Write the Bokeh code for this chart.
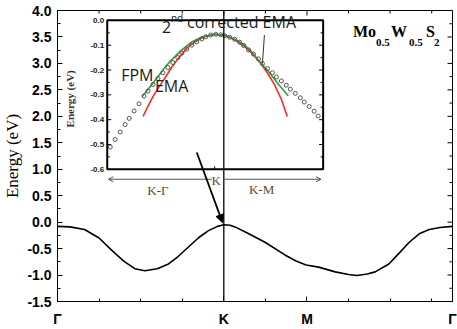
from bokeh.plotting import figure
from bokeh.models import (Range1d, FixedTicker, PrintfTickFormatter, Span,
                          Arrow, NormalHead, OpenHead, Label, ColumnDataSource)
from bokeh.core.properties import value
from bokeh.embed import file_html
from bokeh.resources import INLINE
import math

# ---------------- data ----------------
# main band along Γ-K-M-Γ (path coordinate, energy eV)
band_k = [0.0, 0.3, 0.65, 1.0, 1.3, 1.6, 1.86, 2.1, 2.4, 2.67, 2.9, 3.15, 3.4, 3.63, 3.85,
          4.0, 4.15, 4.27, 4.6, 4.99, 5.47, 5.75, 5.98, 6.28, 6.68, 7.0, 7.2, 7.45, 7.64,
          7.97, 8.2, 8.46, 8.7, 8.94, 9.2, 9.5]
band_e = [-0.08, -0.09, -0.14, -0.30, -0.53, -0.74, -0.88, -0.92, -0.88, -0.79, -0.65, -0.47,
          -0.29, -0.16, -0.08, -0.05, -0.06, -0.09, -0.22, -0.38, -0.62, -0.74, -0.81, -0.85,
          -0.94, -0.99, -1.01, -0.98, -0.94, -0.79, -0.60, -0.38, -0.22, -0.14, -0.10, -0.08]
sym_pos = [0, 4, 6, 9.5]
sym_labels = ["Γ", "K", "M", "Γ"]
minor_x = [1, 2, 3, 5, 7, 8, 9]
y_major = [-1.5, -1.0, -0.5, 0.0, 0.5, 1.0, 1.5, 2.0, 2.5, 3.0, 3.5, 4.0]
y_minor = [-1.25, -0.75, -0.25, 0.25, 0.75, 1.25, 1.75, 2.25, 2.75, 3.25, 3.75]
K_pos = 4

# inset: k measured from K (-1 = K-Γ end, +1 = K-M end), energy eV
fpm_k = [-0.972, -0.926, -0.880, -0.834, -0.797, -0.751, -0.705, -0.659, -0.622, -0.576,
         -0.530, -0.484, -0.438, -0.392, -0.346, -0.309, -0.263, -0.217, -0.171, -0.124,
         -0.088, -0.041, 0.005, 0.051, 0.088, 0.134, 0.180, 0.226, 0.263, 0.309, 0.355,
         0.401, 0.438, 0.484, 0.530, 0.567, 0.613, 0.659, 0.696, 0.742, 0.788, 0.825,
         0.871, 0.917, 0.954]
fpm_e = [-0.510, -0.480, -0.450, -0.420, -0.395, -0.365, -0.336, -0.305, -0.285, -0.258,
         -0.234, -0.211, -0.190, -0.170, -0.150, -0.132, -0.116, -0.100, -0.087, -0.075,
         -0.066, -0.059, -0.056, -0.058, -0.062, -0.068, -0.076, -0.088, -0.101, -0.119,
         -0.136, -0.155, -0.174, -0.194, -0.211, -0.228, -0.244, -0.261, -0.277, -0.294,
         -0.312, -0.329, -0.347, -0.366, -0.385]
ema_k = [-0.668, -0.622, -0.576, -0.521, -0.465, -0.401, -0.336, -0.263, -0.189, -0.106,
         -0.005, 0.097, 0.189, 0.272, 0.346, 0.419, 0.484, 0.548, 0.613, 0.668]
ema_e = [-0.387, -0.345, -0.307, -0.268, -0.232, -0.188, -0.150, -0.113, -0.087, -0.067,
         -0.056, -0.062, -0.080, -0.105, -0.135, -0.172, -0.212, -0.258, -0.318, -0.387]
cema_k = [-0.677, -0.631, -0.585, -0.539, -0.493, -0.447, -0.401, -0.355, -0.309, -0.217,
          -0.124, -0.005, 0.106, 0.198, 0.272, 0.336, 0.410, 0.493, 0.585, 0.677]
cema_e = [-0.307, -0.282, -0.257, -0.232, -0.205, -0.180, -0.158, -0.138, -0.119, -0.087,
          -0.067, -0.056, -0.062, -0.080, -0.100, -0.126, -0.166, -0.205, -0.257, -0.304]
inset_major = [0.0, -0.1, -0.2, -0.3, -0.4, -0.5, -0.6]
inset_minor = [-0.05, -0.15, -0.25, -0.35, -0.45, -0.55]
inset_labels = ["0.0", "-0.1", "-0.2", "-0.3", "-0.4", "-0.5", "-0.6"]

# ---------------- layout constants ----------------
FL, FR, FT, FB = 0.1259, 0.6725, 0.0339, 0.5458   # inset box as fractions of main frame
ix_lo, ix_hi, iy_lo, iy_hi = -1.0, 1.0, -0.6, 0.0
sx = (ix_hi - ix_lo) / (FR - FL)
sy = (iy_hi - iy_lo) / (FB - FT)

p = figure(width=457, height=329, x_range=Range1d(0, 9.5), y_range=Range1d(-1.5, 4.0),
           output_backend="svg", toolbar_location=None,
           min_border_left=55, min_border_right=5, min_border_top=10, min_border_bottom=24)
p.extra_x_ranges = {"ix": Range1d(ix_lo - FL * sx, ix_hi + (1 - FR) * sx)}
p.extra_y_ranges = {"iy": Range1d(iy_lo - (1 - FB) * sy, iy_hi + FT * sy)}
p.xgrid.visible = False
p.ygrid.visible = False
p.outline_line_color = "black"
p.outline_line_width = 1
p.background_fill_color = "white"
p.border_fill_color = "white"

xa = p.xaxis[0]
xa.ticker = FixedTicker(ticks=sym_pos, minor_ticks=minor_x)
xa.major_label_overrides = {k: v for k, v in zip(sym_pos, sym_labels)}
xa.major_label_text_font = "Liberation Sans"
xa.major_label_text_font_style = "bold"
xa.major_label_text_font_size = "14px"
xa.major_label_text_color = "black"
xa.major_label_standoff = 9
xa.major_tick_in = 5
xa.major_tick_out = 0
xa.minor_tick_in = 3
xa.minor_tick_out = 0
xa.axis_line_color = "black"

ya = p.yaxis[0]
ya.ticker = FixedTicker(ticks=y_major, minor_ticks=y_minor)
ya.formatter = PrintfTickFormatter(format="%.1f")
ya.major_label_text_font = "Liberation Sans"
ya.major_label_text_font_style = "bold"
ya.major_label_text_font_size = "14px"
ya.major_label_text_color = "black"
ya.major_label_standoff = 6
ya.major_tick_in = 5
ya.major_tick_out = 0
ya.minor_tick_in = 3
ya.minor_tick_out = 0
ya.axis_line_color = "black"
ya.axis_label = "Energy (eV)"
ya.axis_label_text_font = "Liberation Serif"
ya.axis_label_text_font_style = "normal"
ya.axis_label_text_font_size = "17px"
ya.axis_label_text_color = "black"
ya.axis_label_standoff = 2

# mirrored inward ticks on top and right edges
top_ticks = sym_pos + minor_x
top_len = [5] * len(sym_pos) + [3] * len(minor_x)
p.ray(x=top_ticks, y=[4.0] * len(top_ticks), length=top_len, length_units="screen",
      angle=-math.pi / 2, line_color="black", line_width=1)
r_ticks = y_major + y_minor
r_len = [5] * len(y_major) + [3] * len(y_minor)
p.ray(x=[9.5] * len(r_ticks), y=r_ticks, length=r_len, length_units="screen",
      angle=math.pi, line_color="black", line_width=1)

# main band
p.line(band_k, band_e, line_color="black", line_width=1.6)
p.add_layout(Span(location=K_pos, dimension="height", line_color="black", line_width=1.3))

# ---------------- inset ----------------
R = dict(x_range_name="ix", y_range_name="iy")
p.quad(left=[ix_lo], right=[ix_hi], bottom=[iy_lo], top=[iy_hi], fill_color="white",
       line_color="black", line_width=2, **R)
p.ray(x=[ix_lo] * len(inset_major), y=inset_major, length=4, length_units="screen", angle=0,
      line_color="black", line_width=1, **R)
p.ray(x=[ix_lo] * len(inset_minor), y=inset_minor, length=2.5, length_units="screen", angle=0,
      line_color="black", line_width=1, **R)
p.ray(x=[ix_hi] * len(inset_major), y=inset_major, length=4, length_units="screen",
      angle=math.pi, line_color="black", line_width=1, **R)
p.ray(x=[ix_hi] * len(inset_minor), y=inset_minor, length=2.5, length_units="screen",
      angle=math.pi, line_color="black", line_width=1, **R)
p.ray(x=[-0.005], y=[iy_lo], length=3, length_units="screen", angle=math.pi / 2,
      line_color="black", line_width=1, **R)
src_lab = ColumnDataSource(dict(x=[ix_lo] * len(inset_major), y=inset_major, t=inset_labels))
p.text(x="x", y="y", text="t", source=src_lab, text_align="right", text_baseline="middle",
       x_offset=-3, text_font=value("Liberation Sans"), text_font_style="bold",
       text_font_size="8px", text_color="#222222", **R)
p.add_layout(Label(x=-1.341, y=-0.316, text="Energy (eV)", angle=math.pi / 2,
                   text_font="Liberation Serif", text_font_style="bold", text_font_size="11px",
                   text_align="center", text_baseline="middle", text_color="#333333", **R))

# inset curves
p.line(ema_k, ema_e, line_color="#ff2a2a", line_width=1.6, **R)
p.line(cema_k, cema_e, line_color="#2f9e3a", line_width=1.6, **R)
p.scatter(fpm_k, fpm_e, marker="circle", size=4, fill_color=None, line_color="#555555",
          line_width=1, **R)

# inset texts
txt = dict(text_font="Open Sans", text_color="#1a1a1a", **R)
p.add_layout(Label(x=-0.871, y=-0.265, text="FPM", text_font_size="16px", **txt))
p.add_layout(Label(x=-0.558, y=-0.308, text="EMA", text_font_size="16px", **txt))
p.add_layout(Label(x=-0.493, y=-0.051, text="2", text_font_size="16px", **txt))
p.add_layout(Label(x=-0.493, y=-0.051, text="nd", text_font_size="10px", x_offset=9,
                   y_offset=8, **txt))
p.add_layout(Label(x=-0.493, y=-0.051, text="corrected EMA", text_font_size="16px",
                   x_offset=25, **txt))
p.segment(x0=[0.456], y0=[-0.059], x1=[0.438], y1=[-0.174], line_color="#333333",
          line_width=1, **R)

# K-Γ / K-M arrows under inset
brown = "#5c4a36"
p.add_layout(Arrow(x_start=-0.03, y_start=-0.640, x_end=-0.99, y_end=-0.640,
                   end=OpenHead(size=5, line_width=1, line_color="#555555"),
                   line_color="#555555", line_width=1, **R))
p.add_layout(Arrow(x_start=0.078, y_start=-0.640, x_end=0.98, y_end=-0.640,
                   end=OpenHead(size=5, line_width=1, line_color="#555555"),
                   line_color="#555555", line_width=1, **R))
ser = dict(text_font="Liberation Serif", text_font_size="13px", text_color=brown,
           text_align="center", text_baseline="middle", **R)
p.add_layout(Label(x=0.01, y=-0.643, text="K", **ser))
p.add_layout(Label(x=-0.53, y=-0.684, text="K-Γ", **ser))
p.add_layout(Label(x=0.43, y=-0.680, text="K-M", **ser))

# main arrow pointing to K maximum
p.add_layout(Arrow(x_start=3.35, y_start=1.315, x_end=3.97, y_end=-0.01,
                   end=NormalHead(size=8, fill_color="black", line_color="black"),
                   line_color="black", line_width=1.8))

# compound label Mo0.5W0.5 S2
mo = dict(x=7.107, y=3.44, text_font="Liberation Serif", text_font_style="bold",
          text_color="black")
for t, dx, dy, fs in (("Mo", 0, 0, "16px"), ("0.5", 23, -6, "11px"), ("W", 38, 0, "16px"),
                      ("0.5", 56, -6, "11px"), ("S", 73, 0, "16px"), ("2", 81, -6, "11px")):
    p.add_layout(Label(text=t, x_offset=dx, y_offset=dy, text_font_size=fs, **mo))

open("out.html", "w").write(file_html(p, INLINE))
